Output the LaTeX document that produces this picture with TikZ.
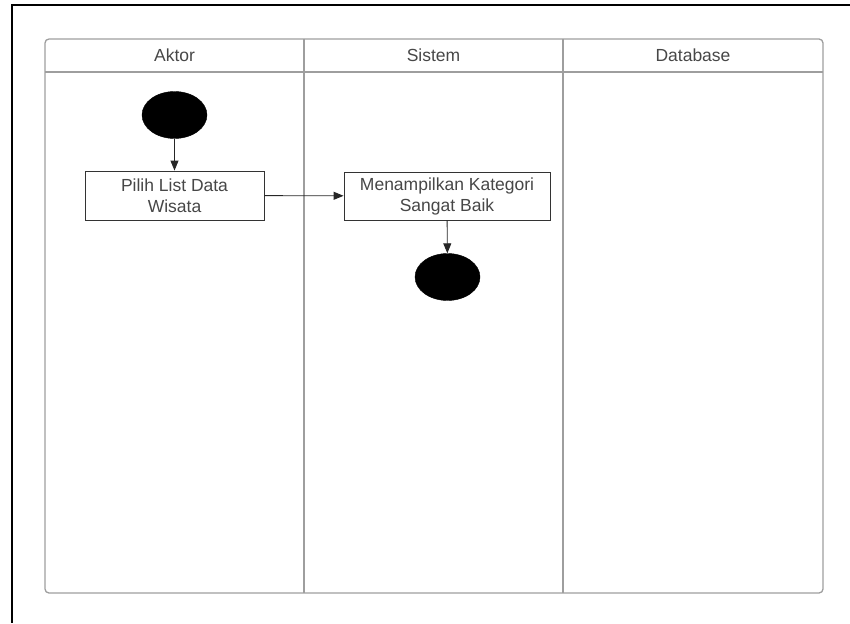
\documentclass[tikz,border=0pt]{standalone}
\usepackage{fontspec}
\setmainfont{Liberation Sans}
\usepackage{tikz}
\usetikzlibrary{shapes,shapes.geometric,arrows,arrows.meta,positioning}

\begin{document}
\begin{tikzpicture}[x=1pt,y=-1pt]
    \colorlet{lanegray}{black!38}
    \colorlet{textgray}{black!72}

    \tikzset{
      lanehead/.style={text=textgray, font=\fontsize{17.5}{20}\selectfont},
      actbox/.style={draw=black!80, line width=0.9pt, fill=white,
                     text=textgray, align=center,
                     font=\fontsize{17.5}{21}\selectfont,
                     inner sep=0pt},
      blob/.style={ellipse, fill=black, draw=black,
                   minimum width=65pt, minimum height=47pt, inner sep=0pt},
      flow/.style={draw=black!85, line width=0.9pt,
                   -{Triangle[length=10pt,width=8pt]}}
    }

    \useasboundingbox (0,0) rectangle (850,623);

    % outer frame (only top and left edge visible)
    \draw[line width=2pt] (850,5) -- (12,5) -- (12,623);

    \begin{scope}[draw=lanegray, line width=1.3pt]
    % Swimlanes
    \draw[rounded corners=4pt] (45,39) rectangle (823,593);
    \draw (45,72) -- (823,72);
    \draw (304,39) -- (304,593);
    \draw (563,39) -- (563,593);
    \end{scope}

    % lane headers
    \node[lanehead] (aktor)    at (174.5,55) {Aktor};
    \node[lanehead] (sistem)   at (433.5,55) {Sistem};
    \node[lanehead] (database) at (693,55)   {Database};

    % activities
    \node[blob] (start) at (174.5,115) {};
    \node[actbox, minimum width=179pt, minimum height=49pt]
         (pilih) at (174.5,195.5) {Pilih List Data\\Wisata};
    \node[actbox, minimum width=206pt, minimum height=48pt]
         (tampil) at (447,196) {Menampilkan Kategori\\Sangat Baik};
    \node[blob] (stop) at (447.5,277) {};

    % flows
    \draw[flow] (start) -- (pilih);
    \draw[flow] (pilih) -- (tampil);
    \draw[flow] (tampil) -- (stop);
\end{tikzpicture}
\end{document}
